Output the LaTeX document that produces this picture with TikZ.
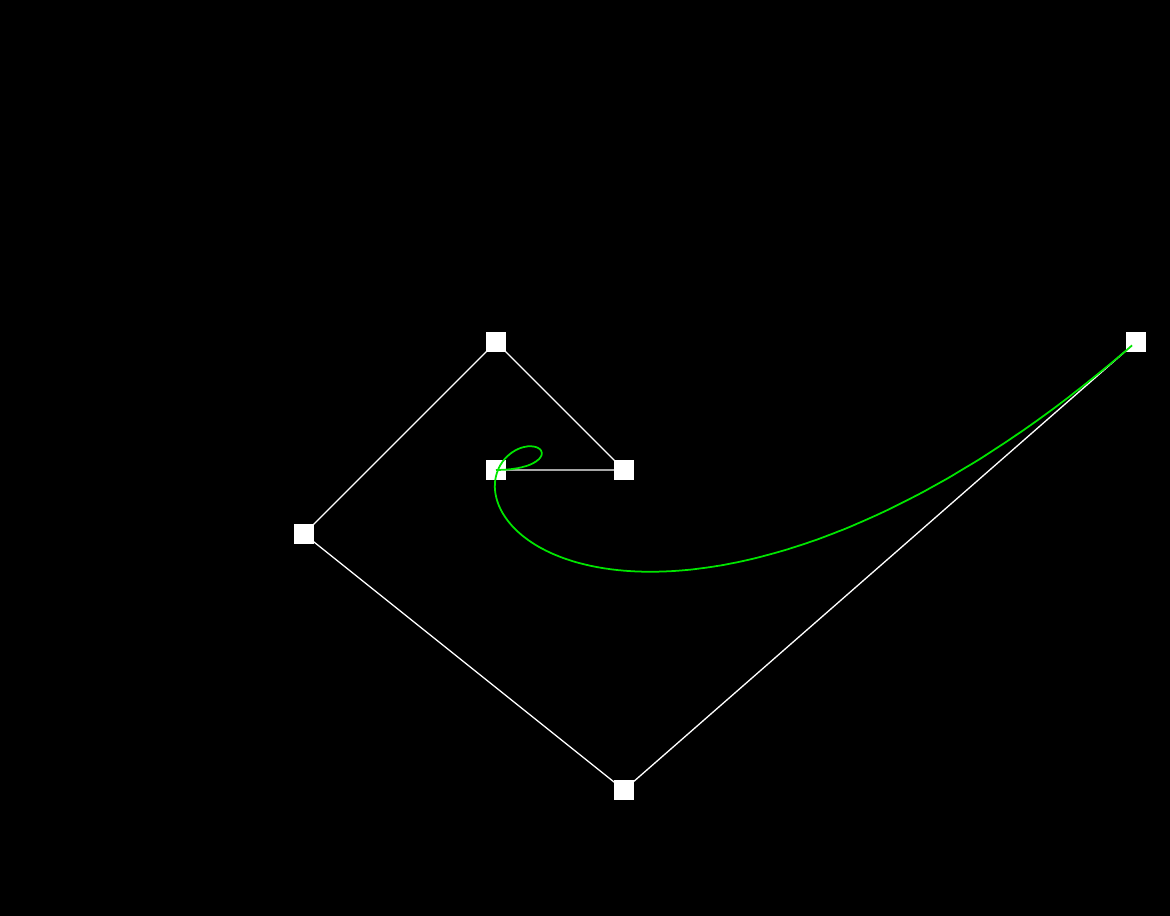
\documentclass[tikz,border=0pt]{standalone}
\begin{document}
\begin{tikzpicture}[x=0.02cm,y=-0.02cm,
  ctrl/.style={fill=white,draw=none,minimum size=0.4cm,inner sep=0pt,outer sep=0pt},
  poly/.style={white,line width=0.75pt},
  curve/.style={draw={rgb,255:red,0;green,230;blue,0},line width=1pt,line join=round}]
\fill[black] (0,0) rectangle (1170,916);
\useasboundingbox (0,0) rectangle (1170,916);
\coordinate (c0) at (496,470);
\coordinate (c1) at (624,470);
\coordinate (c2) at (496,342);
\coordinate (c3) at (304,534);
\coordinate (c4) at (624,790);
\coordinate (c5) at (1136,342);
\draw[poly] (c0) -- (c1) -- (c2) -- (c3) -- (c4) -- (c5);
\foreach \i in {0,...,5} \node[ctrl] (n\i) at (c\i) {};
\draw[curve] plot[domain=0:1,samples=400,variable=\t,smooth]
  ({496*(1-\t)^5 + 624*5*\t*(1-\t)^4 + 496*10*\t^2*(1-\t)^3 + 304*10*\t^3*(1-\t)^2 + 624*5*\t^4*(1-\t) + 1136*\t^5},
   {470*(1-\t)^5 + 470*5*\t*(1-\t)^4 + 342*10*\t^2*(1-\t)^3 + 534*10*\t^3*(1-\t)^2 + 790*5*\t^4*(1-\t) + 342*\t^5});
\end{tikzpicture}
\end{document}
